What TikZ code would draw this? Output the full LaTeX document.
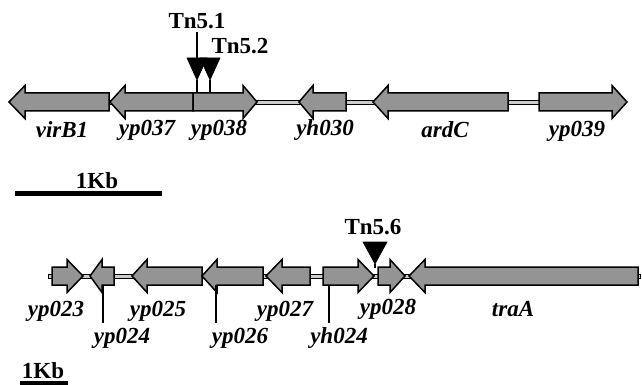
\documentclass[tikz,border=0pt]{standalone}
\usepackage{fontspec}
\setmainfont{Liberation Serif}
\tikzset{
  gene/.style={draw=black, line width=1.5pt, fill=black!42, line join=miter},
  backbone/.style={draw=black, line width=0.6pt, fill=black!20},
  tnmark/.style={fill=black, draw=black, line width=0.6pt},
  stem/.style={line width=1.8pt},
  glabel/.style={font=\fontsize{23}{25}\selectfont\bfseries\itshape, inner sep=0pt},
  tlabel/.style={font=\fontsize{23}{25}\selectfont\bfseries, inner sep=0pt},
  pin/.style={line width=1.2pt},
  scalebar/.style={line width=5pt}
}
% right arrow: start, head base, tip, centre y
\newcommand\rgene[4]{\path[gene] (#1,#4-9) -- (#2,#4-9) -- (#2,#4-16.5) -- (#3,#4) -- (#2,#4+16.5) -- (#2,#4+9) -- (#1,#4+9) -- cycle;}
% left arrow: tip, head base, end, centre y
\newcommand\lgene[4]{\path[gene] (#3,#4-9) -- (#2,#4-9) -- (#2,#4-16.5) -- (#1,#4) -- (#2,#4+16.5) -- (#2,#4+9) -- (#3,#4+9) -- cycle;}
\begin{document}
\begin{tikzpicture}[x=1pt,y=-1pt]
\useasboundingbox (0,0) rectangle (642,385);
% ---------- top row ----------
\path[backbone] (100,100) rectangle (615,104);
\lgene{9}{25}{109}{102}
\lgene{110}{125}{193}{102}
\rgene{193}{243}{257}{102}
\lgene{299}{313}{346}{102}
\lgene{373}{388}{508}{102}
\rgene{539}{612}{627}{102}
% insertions
\coordinate (t1) at (197,80);
\coordinate (t2) at (210,80);
\draw[stem] (t1) -- (197,93.5);
\draw[stem] (t2) -- (210,93.5);
\path[tnmark] (187,58) -- (207,58) -- (t1) -- cycle;
\path[tnmark] (200,58) -- (220,58) -- (t2) -- cycle;
\node[tlabel] (tn1) at (197,21) {Tn5.1};
\node[tlabel] (tn2) at (240,46) {Tn5.2};
\draw[pin] (tn1.south) ++(0,3) coordinate (p1) (p1) -- (197,58);
% labels
\node[glabel] (virB1) at (62,130) {virB1};
\node[glabel] (yp037) at (147,130) {yp037};
\node[glabel] (yp038) at (219,130) {yp038};
\node[glabel] (yh030) at (325,130) {yh030};
\node[glabel] (ardC) at (445,130) {ardC};
\node[glabel] (yp039) at (577,131) {yp039};
% scale bar 1
\node[tlabel] (kb1) at (97,181) {1Kb};
\draw[scalebar] (15,193) -- (162,193);
% ---------- bottom row ----------
\path[backbone] (48,274) rectangle (640,278);
\rgene{52}{67}{83}{276}
\lgene{90}{102}{114}{276}
\lgene{132}{147}{202}{276}
\lgene{202}{217}{263}{276}
\lgene{266}{282}{310}{276}
\rgene{323}{358}{374}{276}
\rgene{378}{390}{405}{276}
\lgene{409}{425}{638}{276}
% Tn5.6
\coordinate (t6) at (375,264);
\draw[stem] (t6) -- (375,267.5);
\path[tnmark] (363,242) -- (387,242) -- (t6) -- cycle;
\node[tlabel] (tn6) at (373,227) {Tn5.6};
% pins
\draw[pin] (103,285) -- (103,323);
\draw[pin] (216,285) -- (216,323);
\draw[pin] (329,285) -- (329,323);
% labels
\node[glabel] (yp023) at (56,311) {yp023};
\node[glabel] (yp024) at (122,338) {yp024};
\node[glabel] (yp025) at (158,311) {yp025};
\node[glabel] (yp026) at (240,338) {yp026};
\node[glabel] (yp027) at (285,311) {yp027};
\node[glabel] (yh024) at (339,338) {yh024};
\node[glabel] (yp028) at (388,309) {yp028};
\node[glabel] (traA) at (513,309) {traA};
% scale bar 2
\node[tlabel] (kb2) at (43,371) {1Kb};
\draw[line width=3.5pt] (20,383) -- (68,383);
\end{tikzpicture}
\end{document}
